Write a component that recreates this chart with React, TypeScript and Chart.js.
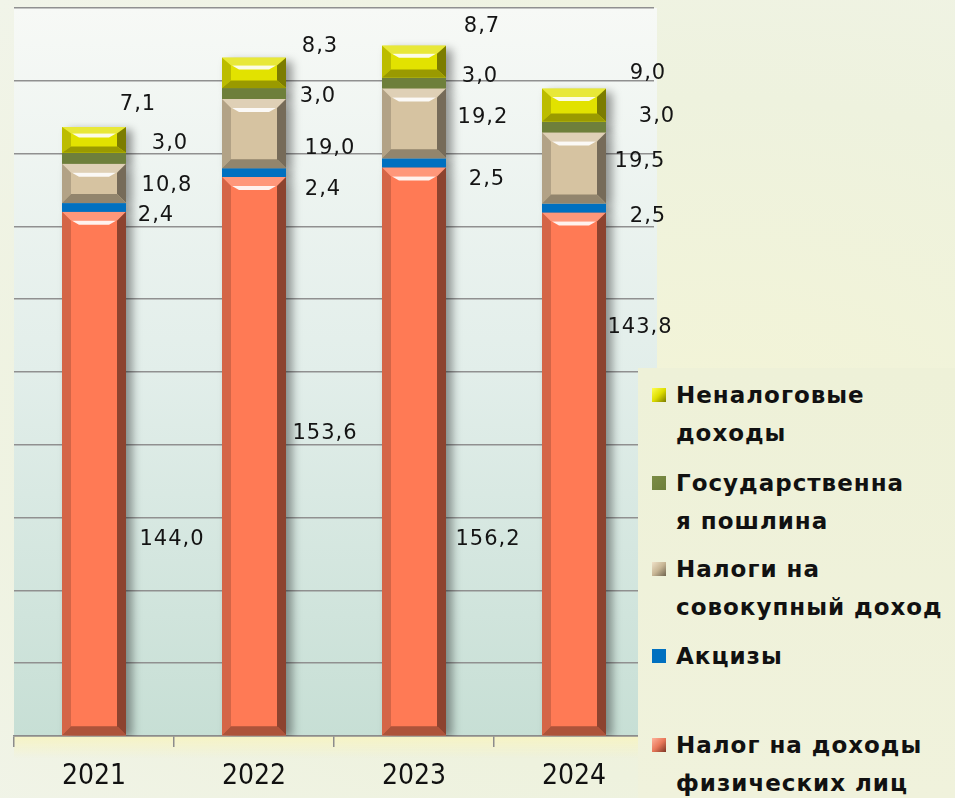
import React, { useEffect, useRef } from "react";
import { Chart, registerables } from "chart.js";

Chart.register(...registerables);

// ---- data ----
const YEARS = ["2021", "2022", "2023", "2024"];
const SERIES_NAMES = [
  "Налог на доходы физических лиц",
  "Акцизы",
  "Налоги на совокупный доход",
  "Государственная пошлина",
  "Неналоговые доходы",
];
const NDFL = [144.0, 153.6, 156.2, 143.8];
const EXCISE = [2.4, 2.4, 2.5, 2.5];
const AGGREGATE_INCOME_TAX = [10.8, 19.0, 19.2, 19.5];
const STATE_DUTY = [3.0, 3.0, 3.0, 3.0];
const NON_TAX = [7.1, 8.3, 8.7, 9.0];
const Y_MIN = 0;
const Y_MAX = 200;
const Y_STEP = 20;

// legend lines (as wrapped in the original), top to bottom
const LEGEND_LINES = [
  ["Неналоговые", "доходы"],
  ["Государственна", "я пошлина"],
  ["Налоги на", "совокупный доход"],
  ["Акцизы"],
  ["Налог на доходы", "физических лиц"],
];

// ---- styles ----
const BASE_COLORS = ["#ff7a55", "#0070c0", "#d6c3a1", "#6e7f3b", "#e2e200"];
// label offsets [dx from bar right edge, dy from segment middle], per series per year
const LABEL_OFFSETS = [
  [[46, 66], [39, -23], [42, 88], [34, -146]],
  [[30, 8], [37, 17], [41, 17], [42, 9]],
  [[41, 2], [44, 15], [37, -6], [34, -6]],
  [[44, -15], [32, 3], [34, -6], [51, -10]],
  [[12, -35], [34, -26], [36, -35], [42, -32]],
];
const LEGEND_MARKERS = [
  "linear-gradient(135deg, #ffff50 0%, #dede00 50%, #7c7c00 100%)",
  "linear-gradient(135deg, #7b8c45 0%, #6e7f3b 100%)",
  "linear-gradient(135deg, #efe2c8 0%, #c7b594 50%, #6f6450 100%)",
  "linear-gradient(135deg, #0070c0 0%, #0070c0 100%)",
  "linear-gradient(135deg, #ffb39c 0%, #e8785a 50%, #7d3524 100%)",
];
const LEGEND_TOPS = [27, 115, 201, 288, 377];

function hexToRgb(h: string) {
  const n = parseInt(h.slice(1), 16);
  return [(n >> 16) & 255, (n >> 8) & 255, n & 255];
}
function mix(h: string, f: number) {
  const [r, g, b] = hexToRgb(h);
  const t = f > 0 ? 255 : 0;
  const a = Math.abs(f);
  const c = (v: number) => Math.round(v + (t - v) * a);
  return `rgb(${c(r)},${c(g)},${c(b)})`;
}

const bevelPlugin = {
  id: "bevel",
  beforeDraw(chart: any) {
    const { ctx, chartArea: a } = chart;
    ctx.save();
    const g = ctx.createLinearGradient(0, a.top, 0, a.bottom);
    g.addColorStop(0, "#f7f9f6");
    g.addColorStop(0.5, "#e2eeea");
    g.addColorStop(1, "#c7dfd5");
    ctx.fillStyle = g;
    ctx.fillRect(a.left, a.top, a.right - a.left + 3, a.bottom - a.top);
    const g2 = ctx.createLinearGradient(0, a.bottom, 0, a.bottom + 22);
    g2.addColorStop(0, "rgba(246,243,196,1)");
    g2.addColorStop(1, "rgba(246,243,196,0)");
    ctx.fillStyle = g2;
    ctx.fillRect(a.left, a.bottom, a.right - a.left, 22);
    ctx.restore();
  },
  beforeDatasetsDraw(chart: any) {
    const ctx = chart.ctx;
    ctx.save();
    ctx.shadowColor = "rgba(0,0,0,0.4)";
    ctx.shadowBlur = 9;
    ctx.shadowOffsetX = 6;
    ctx.shadowOffsetY = 3;
  },
  afterDatasetsDraw(chart: any) {
    const ctx = chart.ctx;
    ctx.restore();
    ctx.save();
    chart.data.datasets.forEach((ds: any, i: number) => {
      const meta = chart.getDatasetMeta(i);
      const base = BASE_COLORS[i];
      meta.data.forEach((el: any) => {
        const p = el.getProps(["x", "y", "base", "width"], true);
        const x0 = p.x - p.width / 2;
        const x1 = p.x + p.width / 2;
        const y0 = Math.min(p.y, p.base);
        const y1 = Math.max(p.y, p.base);
        const h = y1 - y0;
        ctx.fillStyle = base;
        ctx.fillRect(x0, y0, x1 - x0, h);
        if (h < 20) return;
        const b = 9;
        const bt = Math.min(9, h / 4);
        const poly = (pts: number[][], fill: string) => {
          ctx.beginPath();
          ctx.moveTo(pts[0][0], pts[0][1]);
          for (let k = 1; k < pts.length; k++) ctx.lineTo(pts[k][0], pts[k][1]);
          ctx.closePath();
          ctx.fillStyle = fill;
          ctx.fill();
        };
        poly([[x0, y0], [x1, y0], [x1 - b, y0 + bt], [x0 + b, y0 + bt]], mix(base, 0.22));
        poly([[x0, y0], [x0 + b, y0 + bt], [x0 + b, y1 - bt], [x0, y1]], mix(base, -0.17));
        poly([[x1, y0], [x1, y1], [x1 - b, y1 - bt], [x1 - b, y0 + bt]], mix(base, -0.45));
        poly([[x0, y1], [x0 + b, y1 - bt], [x1 - b, y1 - bt], [x1, y1]], mix(base, -0.32));
        poly(
          [[x0 + b + 1, y0 + bt], [x1 - b - 1, y0 + bt], [x1 - b - 8, y0 + bt + 4], [x0 + b + 8, y0 + bt + 4]],
          "rgba(255,255,255,0.9)"
        );
      });
    });
    ctx.restore();
  },
  afterDraw(chart: any) {
    const ctx = chart.ctx;
    ctx.save();
    ctx.font = "21px 'DejaVu Sans', sans-serif";
    (ctx as any).letterSpacing = "1px";
    ctx.fillStyle = "#141414";
    ctx.textAlign = "center";
    ctx.textBaseline = "middle";
    chart.data.datasets.forEach((ds: any, i: number) => {
      const meta = chart.getDatasetMeta(i);
      meta.data.forEach((el: any, j: number) => {
        const p = el.getProps(["x", "y", "base", "width"], true);
        const right = p.x + p.width / 2;
        const mid = (p.y + p.base) / 2;
        const [dx, dy] = LABEL_OFFSETS[i][j];
        const txt = ds.data[j].toFixed(1).replace(".", ",");
        ctx.fillText(txt, right + dx, mid + dy);
      });
    });
    ctx.restore();
  },
};

export default function App() {
  const ref = useRef<HTMLCanvasElement | null>(null);

  useEffect(() => {
    if (!ref.current) return;
    const series = [NDFL, EXCISE, AGGREGATE_INCOME_TAX, STATE_DUTY, NON_TAX];
    const chart = new Chart(ref.current, {
      type: "bar",
      data: {
        labels: YEARS,
        datasets: series.map((d, i) => ({
          label: SERIES_NAMES[i],
          data: d,
          backgroundColor: BASE_COLORS[i],
          borderWidth: 0,
          barPercentage: 0.4,
          categoryPercentage: 1.0,
        })),
      },
      options: {
        animation: false,
        responsive: false,
        maintainAspectRatio: false,
        layout: { padding: { left: 14, top: 8, right: 301, bottom: 0 } },
        plugins: { legend: { display: false }, tooltip: { enabled: false } },
        scales: {
          x: {
            stacked: true,
            grid: {
              drawOnChartArea: false,
              offset: true,
              tickLength: 11,
              color: "#8c8c8c",
              lineWidth: 1.5,
            },
            border: { display: true, color: "#8c8c8c", width: 1.5 },
            ticks: {
              color: "#111",
              padding: 13,
              font: {
                family: "'Liberation Sans Narrow', 'DejaVu Sans Condensed', 'Roboto', sans-serif",
                size: 28,
              },
            },
            afterFit: (s: any) => {
              s.height = 62;
            },
          },
          y: {
            stacked: true,
            min: Y_MIN,
            max: Y_MAX,
            ticks: { display: false, stepSize: Y_STEP },
            border: { display: false },
            grid: { drawTicks: false, color: "#909090", lineWidth: 1.5 },
            afterFit: (s: any) => {
              s.width = 0;
            },
          },
        },
      },
      plugins: [bevelPlugin],
    });
    return () => chart.destroy();
  }, []);

  return (
    <div
      style={{
        position: "absolute",
        left: 0,
        top: 0,
        width: 955,
        height: 798,
        overflow: "hidden",
        background:
          "radial-gradient(ellipse at 75% 55%, #f3f4d6 0%, #eef2de 55%, #f1f4e9 100%)",
      }}
    >
      <canvas ref={ref} width={955} height={798} style={{ position: "absolute", left: 0, top: 0 }} />
      <div
        style={{
          position: "absolute",
          left: 638,
          top: 368,
          width: 317,
          height: 430,
          background: "linear-gradient(180deg, #eef1d8 0%, #f0f2dc 100%)",
          fontFamily: "'DejaVu Sans', sans-serif",
          fontWeight: "bold",
          fontSize: 23,
          color: "#111",
          letterSpacing: "1px",
        }}
      >
        {LEGEND_LINES.map((lines, i) => (
          <div key={i} style={{ position: "absolute", left: 0, top: LEGEND_TOPS[i] - 19, width: 317 }}>
            <div
              style={{
                position: "absolute",
                left: 14,
                top: 12,
                width: 14,
                height: 14,
                background: LEGEND_MARKERS[i],
              }}
            />
            <div style={{ position: "absolute", left: 38, top: 0, lineHeight: "38px", whiteSpace: "nowrap" }}>
              {lines.map((l, k) => (
                <div key={k}>{l}</div>
              ))}
            </div>
          </div>
        ))}
      </div>
    </div>
  );
}
